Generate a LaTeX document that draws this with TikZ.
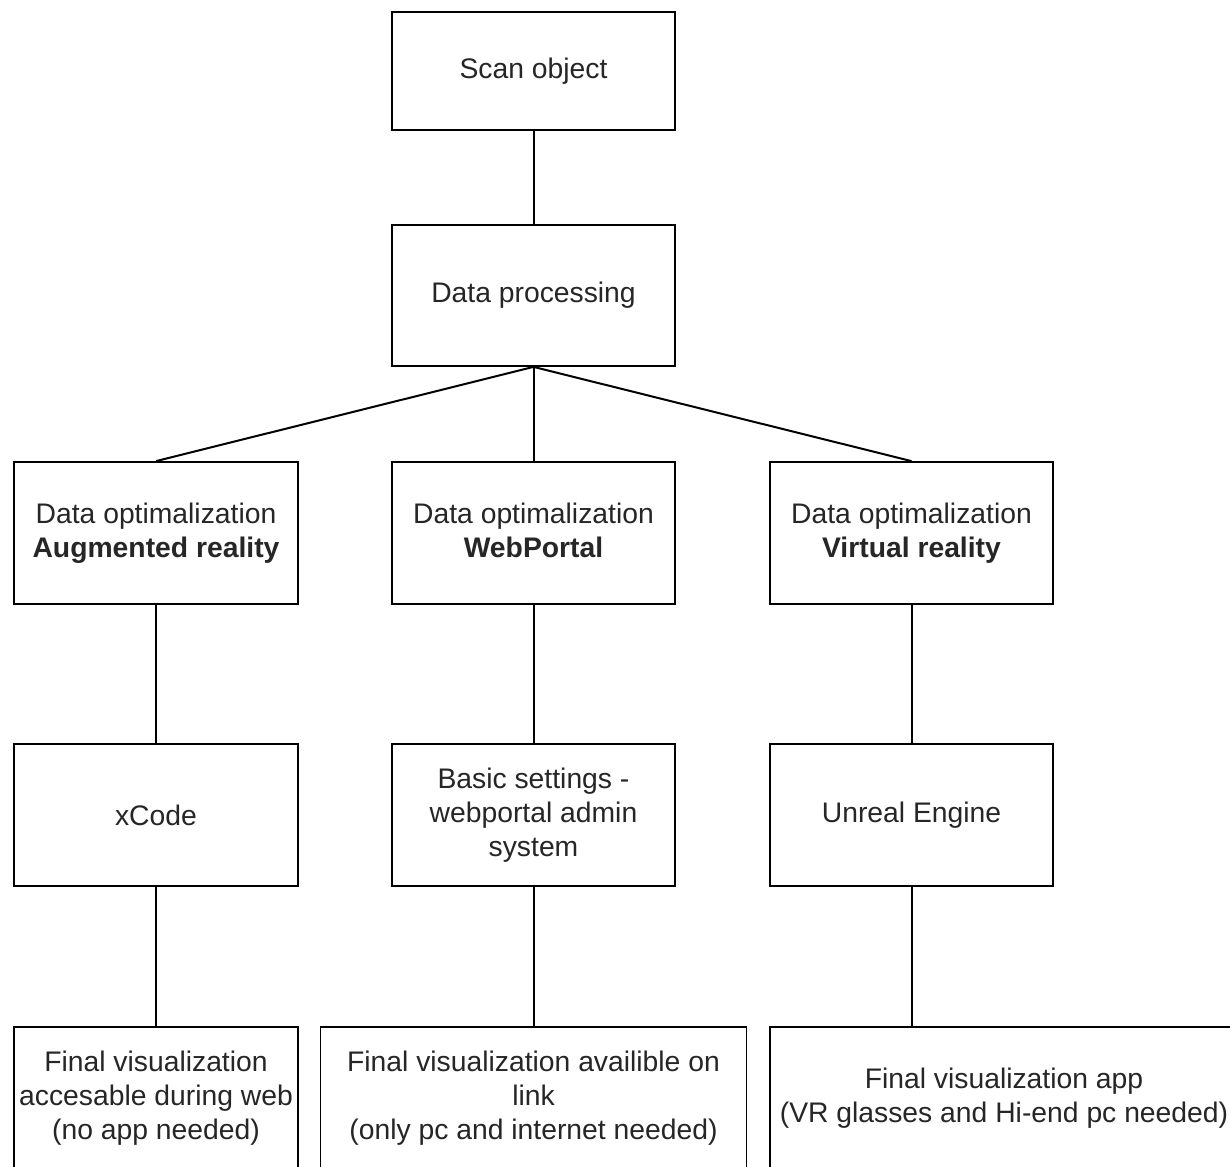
\documentclass[tikz,border=0pt]{standalone}
\usepackage{fontspec}
\setmainfont{Liberation Sans}
\begin{document}
\begin{tikzpicture}[x=1pt,y=-1pt,
  box/.style={draw=black, line width=1.8pt, fill=white, align=center, inner sep=2pt,
    font=\fontsize{28.3}{34}\selectfont, text=black!85},
  conn/.style={draw=black, line width=2pt}]
\clip (0,0) rectangle (1230,1166);
\fill[white] (0,0) rectangle (1230,1166);
\node[box, minimum width=283, minimum height=118] (scan) at (533.5,71) {Scan object};
\node[box, minimum width=283, minimum height=141] (dp) at (533.5,295.5) {Data processing};
\node[box, minimum width=284, minimum height=142] (ar) at (156,533) {Data optimalization\\\textbf{Augmented reality}};
\node[box, minimum width=283, minimum height=142] (wp) at (533.5,533) {Data optimalization\\\textbf{WebPortal}\vphantom{g}};
\node[box, minimum width=283, minimum height=142] (vr) at (911.5,533) {Data optimalization\\\textbf{Virtual reality}};
\node[box, minimum width=284, minimum height=142] (xc) at (156,815) {xCode};
\node[box, minimum width=283, minimum height=142] (bs) at (533.5,815) {Basic settings -\\webportal admin\\system};
\node[box, minimum width=283, minimum height=142] (ue) at (911.5,815) {Unreal Engine};
\node[box, minimum width=284, minimum height=142] (f1) at (156,1098) {Final visualization\\accesable during web\\(no app needed)};
\node[box, minimum width=426, minimum height=142] (f2) at (533.5,1098) {Final visualization availible on\\link\\ (only pc and internet needed)};
\node[box, minimum width=468, minimum height=142] (f3) at (1004,1098) {Final visualization app\\(VR glasses and Hi-end pc needed)};
\draw[conn] (scan.south) -- (dp.north);
\draw[conn] (dp.south) -- (ar.north);
\draw[conn] (dp.south) -- (wp.north);
\draw[conn] (dp.south) -- (vr.north);
\draw[conn] (ar.south) -- (xc.north);
\draw[conn] (wp.south) -- (bs.north);
\draw[conn] (vr.south) -- (ue.north);
\draw[conn] (xc.south) -- (f1.north);
\draw[conn] (bs.south) -- (f2.north);
\draw[conn] (ue.south) -- (f3.north -| ue.south);
\end{tikzpicture}
\end{document}
